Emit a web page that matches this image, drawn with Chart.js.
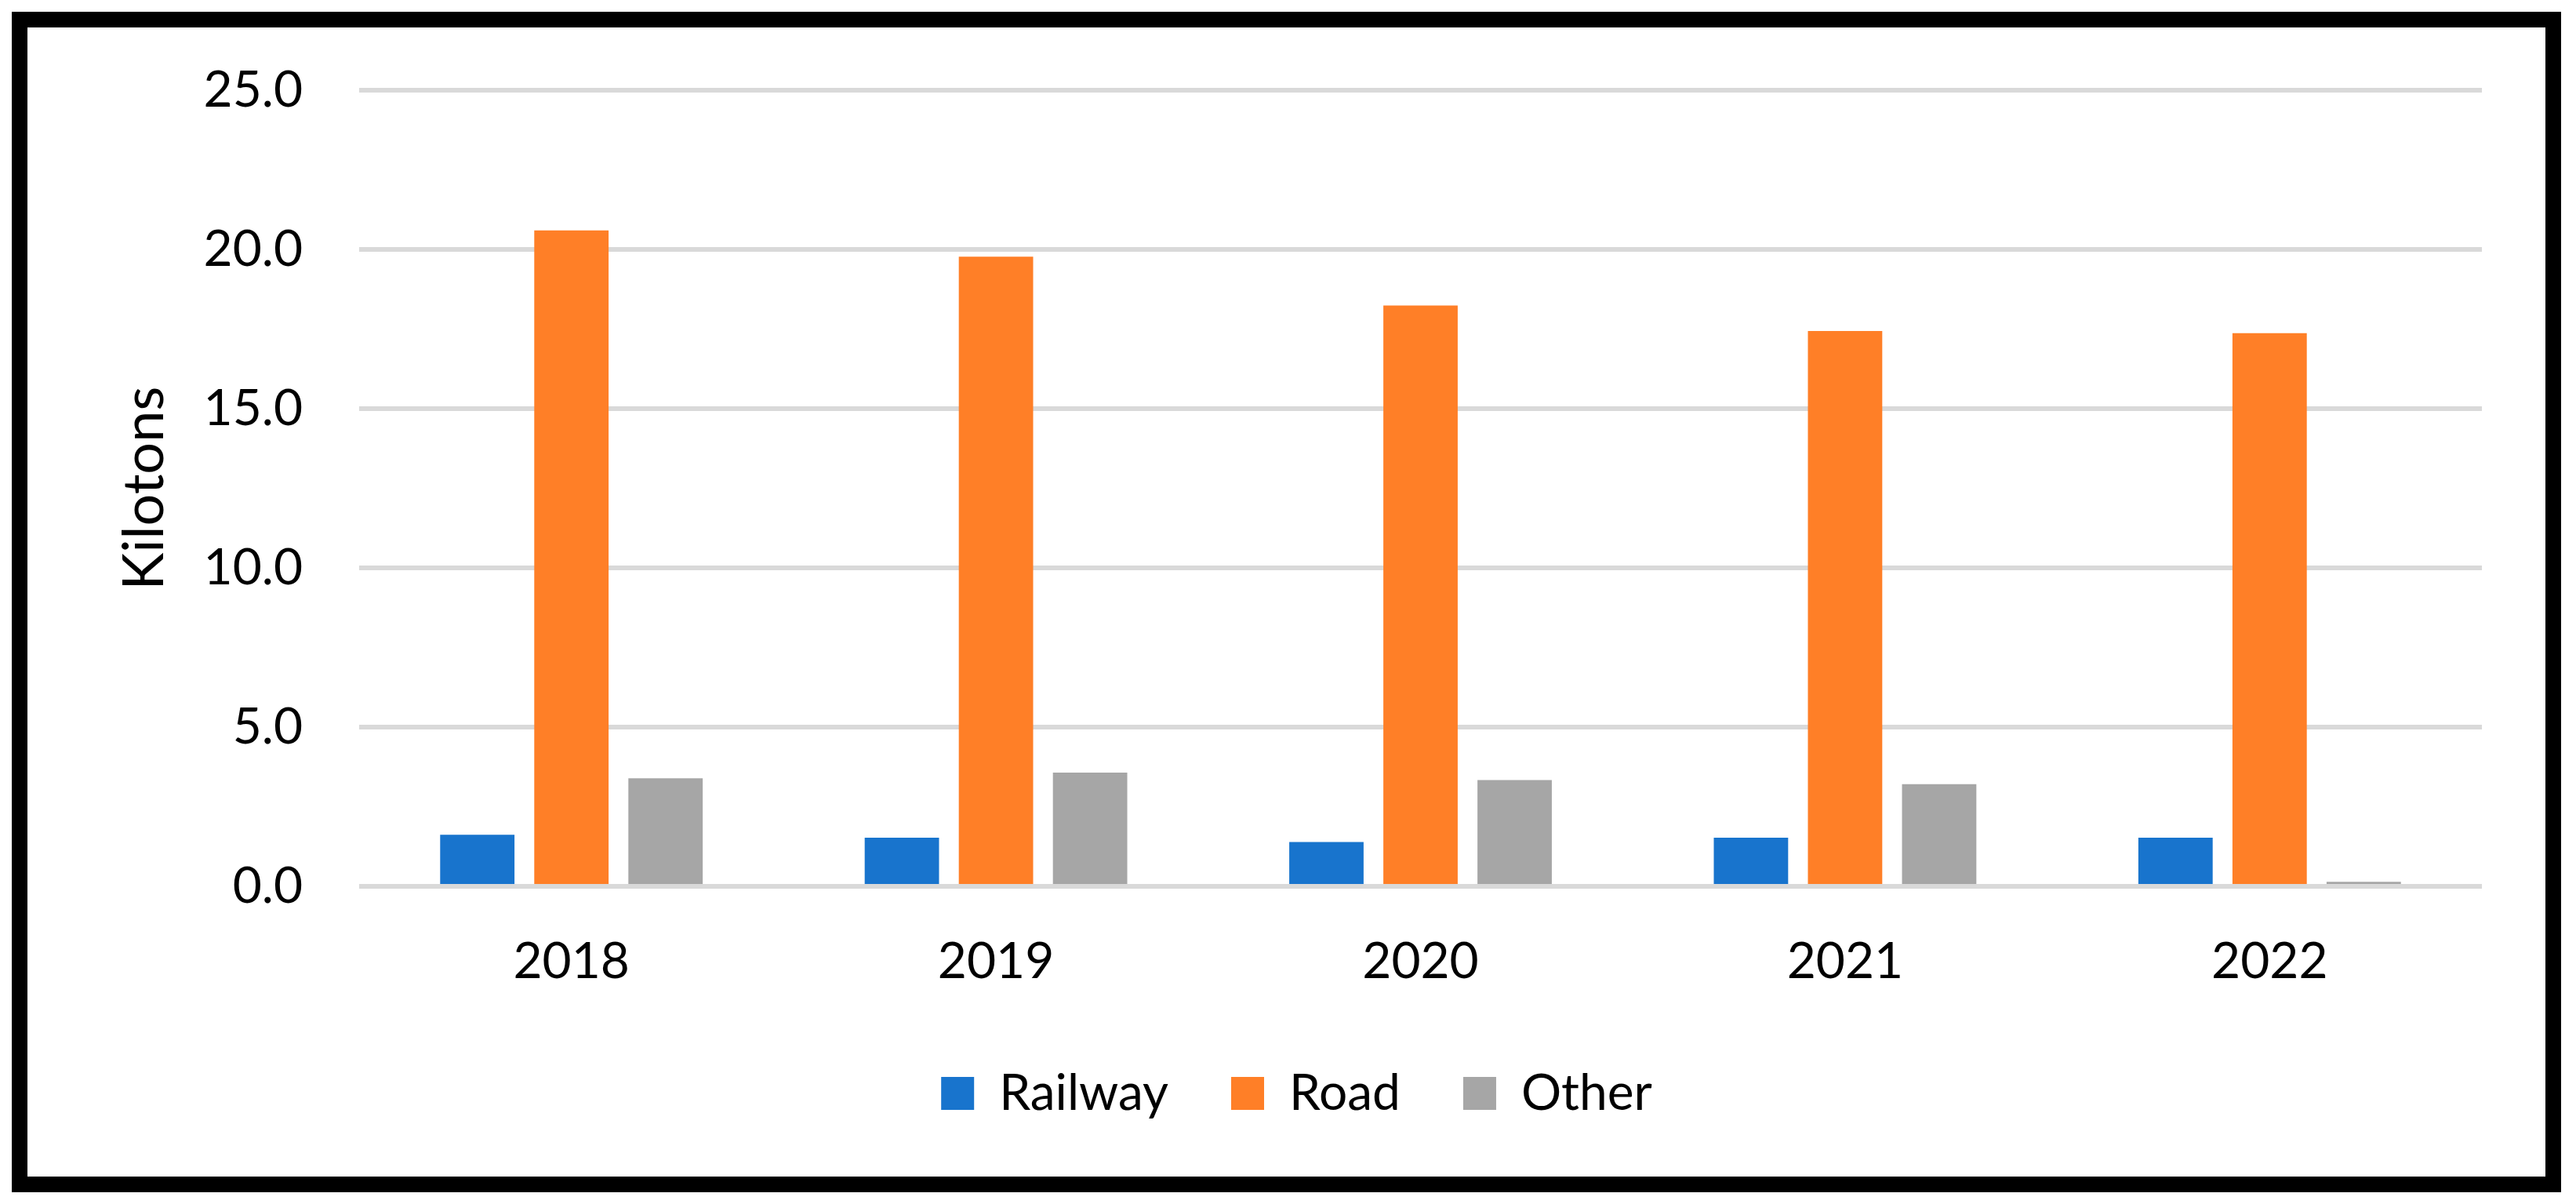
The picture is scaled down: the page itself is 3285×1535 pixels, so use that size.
<!DOCTYPE html>
<html>
<head>
<meta charset="utf-8">
<script src="https://cdn.jsdelivr.net/npm/chart.js@4.4.1/dist/chart.umd.min.js"></script>
<style>
    html, body { margin: 0; padding: 0; background: #ffffff; }
    #wrap { position: relative; width: 3285px; height: 1535px; }
    #frame {
        position: absolute; left: 15px; top: 15px;
        width: 3211px; height: 1465px;
        border: 20px solid #000000;
        pointer-events: none;
    }
</style>
</head>
<body>
<div id="wrap">
    <canvas id="barChart"></canvas>
    <div id="frame"></div>
</div>
<script>
const years = ['2018', '2019', '2020', '2021', '2022'];
const railway = [1.62, 1.53, 1.39, 1.53, 1.53];
const road = [20.60, 19.77, 18.24, 17.44, 17.37];
const other = [3.39, 3.57, 3.34, 3.21, 0.14];
const yTicks = [0, 5, 10, 15, 20, 25];

const FONT = 'Lato, "Open Sans", sans-serif';

function makeDataset(label, values, color) {
    return {
        label: label,
        data: values,
        backgroundColor: color,
        borderWidth: 0,
        categoryPercentage: 0.665,
        barPercentage: 0.79
    };
}

function createBarChart() {
    const ctx = document.getElementById('barChart').getContext('2d');
    new Chart(ctx, {
        type: 'bar',
        data: {
            labels: years,
            datasets: [
                makeDataset('Railway', railway, '#1874CD'),
                makeDataset('Road', road, '#FF7F27'),
                makeDataset('Other', other, '#A6A6A6')
            ]
        },
        options: {
            responsive: true,
            maintainAspectRatio: false,
            animation: false,
            layout: {
                padding: { left: 142, right: 120, top: 115, bottom: 99 }
            },
            plugins: {
                tooltip: { enabled: false },
                legend: {
                    position: 'bottom',
                    labels: {
                        boxWidth: 42,
                        boxHeight: 42,
                        padding: 80,
                        color: '#000000',
                        font: { family: FONT, size: 64 }
                    }
                }
            },
            scales: {
                x: {
                    grid: { display: false },
                    border: { display: false },
                    ticks: {
                        color: '#000000',
                        padding: 50,
                        font: { family: FONT, size: 64 }
                    },
                    afterFit: function(scale) { scale.height = 152; }
                },
                y: {
                    min: 0,
                    max: 25,
                    afterBuildTicks: function(scale) {
                        scale.ticks = yTicks.map(v => ({ value: v }));
                    },
                    grid: { color: '#D9D9D9', lineWidth: 6, drawTicks: false },
                    border: { display: false },
                    ticks: {
                        color: '#000000',
                        padding: 72,
                        font: { family: FONT, size: 64 },
                        callback: function(value) { return value.toFixed(1); }
                    },
                    title: {
                        display: true,
                        text: 'Kilotons',
                        color: '#000000',
                        padding: { top: 0, bottom: 0 },
                        font: { family: FONT, size: 72 }
                    },
                    afterFit: function(scale) { scale.width = 458 - 142; }
                }
            }
        }
    });
}

createBarChart();
</script>
</body>
</html>
